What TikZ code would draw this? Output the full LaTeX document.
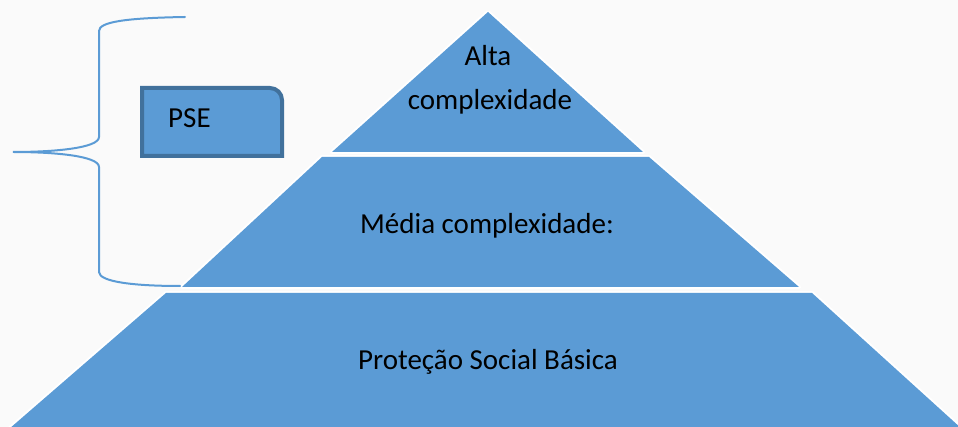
\documentclass[tikz,border=0pt]{standalone}
\usepackage{fontspec}
\setmainfont{Carlito}
\definecolor{tier}{HTML}{5B9BD5}
\definecolor{tierborder}{HTML}{41719C}
\definecolor{bgcol}{HTML}{FAFAFA}
\begin{document}
\begin{tikzpicture}[x=1pt,y=-1pt,
  halo/.style={fill=white,draw=white,line width=4pt,line join=round},
  tierfill/.style={fill=tier},
  lbl/.style={font=\fontsize{29}{35}\selectfont,inner sep=0pt,anchor=base,text=black},
  bracestyle/.style={draw=tier,line width=2pt,line cap=round},
  boxstyle/.style={draw=tierborder,fill=tier,line width=4pt}]
\fill[bgcol] (0,0) rectangle (958,427);
\useasboundingbox (0,0) rectangle (958,427);
\clip (0,0) rectangle (958,427);
% white halos
\path[halo] (488,12) -- (643,152) -- (332,152) -- cycle;
\path[halo] (322,157) -- (649,157) -- (799,287) -- (182,287) -- cycle;
\path[halo] (166,293) -- (812,293) -- (962,429) -- (9,429) -- cycle;
% tiers
\fill[tierfill] (488,12) -- (643,152) -- (332,152) -- cycle;
\fill[tierfill] (322,157) -- (649,157) -- (799,287) -- (182,287) -- cycle;
\fill[tierfill] (166,293) -- (812,293) -- (962,429) -- (9,429) -- cycle;
% labels
\node[lbl] (alta) at (488,66) {Alta};
\node[lbl] (altacx) at (490,110) {complexidade};
\node[lbl] (media) at (487,234) {Média complexidade:};
\node[lbl] (basica) at (488,370) {Proteção Social Básica};
% PSE box
\draw[boxstyle] (142,156) -- (142,88) -- (270,88) arc[start angle=270,end angle=360,radius=12] -- (282,156) -- cycle;
\node[lbl,anchor=base west] (pse) at (168,128) {PSE};
% brace
\draw[bracestyle] (185,17) .. controls (125,18) and (99,22) .. (99,31) -- (99,137)
  .. controls (99,148) and (55,152) .. (13,152)
  .. controls (55,152) and (99,156) .. (99,167) -- (99,272)
  .. controls (99,282) and (135,286) .. (180,286);
\end{tikzpicture}
\end{document}
